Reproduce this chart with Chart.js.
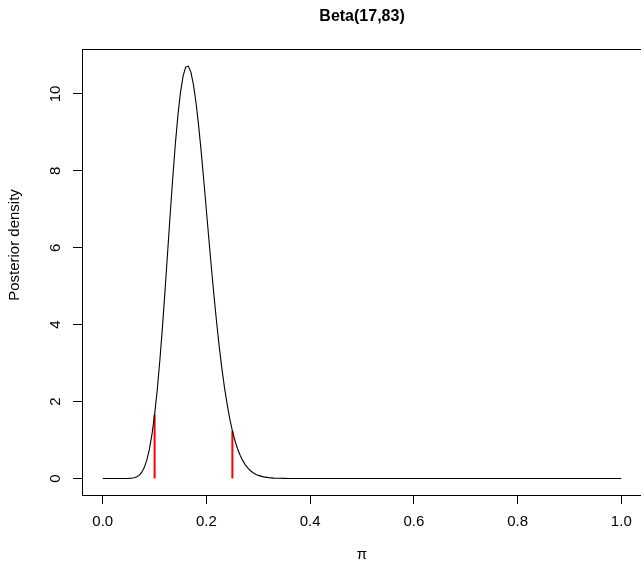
<!DOCTYPE html>
<html>
<head>
<meta charset="utf-8">
<title>Beta(17,83)</title>
<script src="https://cdn.jsdelivr.net/npm/chart.js@4"></script>
<style>
  html, body { margin: 0; padding: 0; background: #fff; }
  #wrap { width: 641px; height: 563px; position: relative; }
</style>
</head>
<body>
<div id="wrap"><canvas id="betaChart"></canvas></div>
<script>
// ---------- Data ----------
const TITLE = "Beta(17,83)";
const X_LABEL = "π";
const Y_LABEL = "Posterior density";

// pi grid and posterior density along the curve (finer where it bends)
const piGrid = [
  0.00, 0.01, 0.02, 0.03, 0.04, 0.05, 0.055, 0.06, 0.065, 0.07,
  0.075, 0.08, 0.085, 0.09, 0.095, 0.10, 0.105, 0.11, 0.115, 0.12,
  0.125, 0.13, 0.135, 0.14, 0.145, 0.15, 0.155, 0.16, 0.165, 0.17,
  0.175, 0.18, 0.185, 0.19, 0.195, 0.20, 0.205, 0.21, 0.215, 0.22,
  0.225, 0.23, 0.235, 0.24, 0.245, 0.25, 0.255, 0.26, 0.265, 0.27,
  0.275, 0.28, 0.285, 0.29, 0.295, 0.30, 0.31, 0.32, 0.33, 0.34,
  0.35, 0.36, 0.37, 0.38, 0.40, 0.50, 0.60, 0.70, 0.80, 0.90, 1.00
];
const density = [
  0, 0, 0, 0, 0.0001, 0.002, 0.006, 0.017, 0.039, 0.081,
  0.157, 0.283, 0.478, 0.761, 1.151, 1.66, 2.296, 3.05, 3.916, 4.86,
  5.856, 6.86, 7.817, 8.70, 9.451, 10.05, 10.469, 10.70, 10.725, 10.57,
  10.238, 9.76, 9.164, 8.48, 7.73, 6.95, 6.174, 5.41, 4.685, 4.01,
  3.389, 2.83, 2.343, 1.92, 1.551, 1.24, 0.986, 0.774, 0.602, 0.464,
  0.354, 0.268, 0.201, 0.149, 0.110, 0.080, 0.042, 0.021, 0.010, 0.005,
  0.002, 0.001, 0.0004, 0.0002, 0, 0, 0, 0, 0, 0, 0
];

// red interval markers (lower / upper bound and their heights)
const ciBounds = [0.10, 0.25];
const ciHeights = [1.66, 1.24];

const xTicks = [0.0, 0.2, 0.4, 0.6, 0.8, 1.0];
const yTicks = [0, 2, 4, 6, 8, 10];

// ---------- Look ----------
const FONT = "'Liberation Sans', Arial, Helvetica, sans-serif";
const INK = "#000000";
const RED = "#ff0000";

// R style box + title + axis labels
const rFrame = {
  id: "rFrame",
  afterDraw(chart) {
    const { ctx, chartArea: a } = chart;
    const xs = chart.scales.x;
    const midX = (xs.getPixelForValue(0) + xs.getPixelForValue(1)) / 2;
    ctx.save();
    ctx.strokeStyle = INK;
    ctx.lineWidth = 1;
    ctx.strokeRect(a.left + 0.5, a.top + 0.5, a.right - a.left, a.bottom - a.top);

    ctx.fillStyle = INK;
    ctx.textAlign = "center";
    ctx.textBaseline = "middle";
    ctx.font = "bold 16px " + FONT;
    ctx.fillText(TITLE, midX, 17);

    ctx.font = "15px " + FONT;
    ctx.fillText(X_LABEL, midX, 555);

    ctx.translate(15, 245);
    ctx.rotate(-Math.PI / 2);
    ctx.fillText(Y_LABEL, 0, 0);
    ctx.restore();
  },
};

const setTicks = (vals) => (axis) => {
  axis.ticks = vals.map((v) => ({ value: v }));
};

new Chart(document.getElementById("betaChart"), {
  type: "scatter",
  data: {
    datasets: [
      {
        data: piGrid.map((x, i) => ({ x, y: density[i] })),
        showLine: true,
        borderColor: INK,
        borderWidth: 1.1,
        pointRadius: 0,
        tension: 0,
      },
      ...ciBounds.map((b, i) => ({
        data: [{ x: b, y: 0 }, { x: b, y: ciHeights[i] }],
        showLine: true,
        borderColor: RED,
        borderWidth: 2,
        pointRadius: 0,
      })),
    ],
  },
  options: {
    responsive: true,
    maintainAspectRatio: false,
    animation: false,
    layout: { padding: { top: 49, left: 0, right: 0, bottom: 0 } },
    plugins: { legend: { display: false }, tooltip: { enabled: false } },
    scales: {
      x: {
        type: "linear",
        min: -0.04,
        max: 1.038,
        afterBuildTicks: setTicks(xTicks),
        afterFit: (s) => { s.height = 68; },
        border: { display: false },
        grid: { drawOnChartArea: false, drawTicks: true, tickLength: 9, color: INK },
        ticks: {
          color: INK,
          padding: 9,
          maxRotation: 0,
          font: { family: FONT, size: 15 },
          callback: (v) => v.toFixed(1),
        },
      },
      y: {
        type: "linear",
        min: -0.43,
        max: 11.17,
        afterBuildTicks: setTicks(yTicks),
        afterFit: (s) => { s.width = 82; },
        border: { display: false },
        grid: { drawOnChartArea: false, drawTicks: true, tickLength: 9, color: INK },
        ticks: {
          color: INK,
          padding: 9,
          minRotation: 90,
          maxRotation: 90,
          crossAlign: "center",
          font: { family: FONT, size: 15 },
          callback: (v) => String(v),
        },
      },
    },
  },
  plugins: [rFrame],
});
</script>
</body>
</html>
